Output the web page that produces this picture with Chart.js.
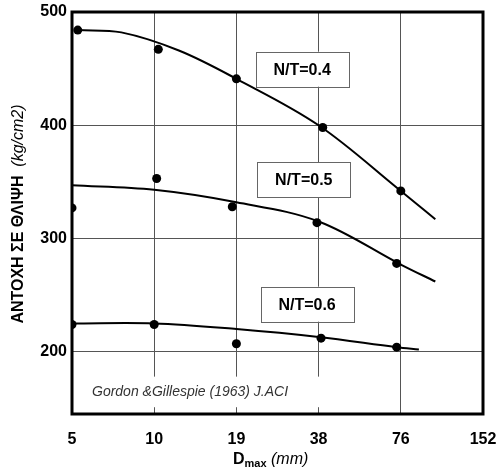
<!DOCTYPE html>
<html>
<head>
<meta charset="utf-8">
<title>Αντοχή σε θλίψη - Dmax</title>
<script src="https://cdn.jsdelivr.net/npm/chart.js@4.4.1/dist/chart.umd.min.js"></script>
<style>
  html, body { margin: 0; padding: 0; background: #fff; }
  #wrap { width: 501px; height: 470px; }
</style>
</head>
<body>
<div id="wrap"><canvas id="strengthChart" width="501" height="470"></canvas></div>
<script>
// x axis is spaced by octaves of Dmax: position i -> xTickLabels[i]
const xTickLabels = ["5", "10", "19", "38", "76", "152"];
const yTickValues = [200, 300, 400, 500];

// measured points (kg/cm2)
const nt04PointX = [0.07, 1.05, 2.0, 3.05, 4.0];
const nt04PointY = [484, 467, 441, 398, 342];
const nt05PointX = [0, 1.03, 1.95, 2.98, 3.95];
const nt05PointY = [327, 353, 328, 314, 278];
const nt06PointX = [0, 1.0, 2.0, 3.03, 3.95];
const nt06PointY = [224, 224, 207, 212, 204];

// fitted curves
const nt04CurveX = [0.07, 0.6, 1.3, 2, 3, 4, 4.42];
const nt04CurveY = [484, 482, 466, 441, 400, 342, 317];
const nt05CurveX = [0, 1, 2, 3, 4, 4.42];
const nt05CurveY = [347, 343, 332, 315, 277, 262];
const nt06CurveX = [0, 1, 2, 3, 3.95, 4.22];
const nt06CurveY = [225, 225, 220, 213, 204, 202];

const noteLabels = ["N/T=0.4", "N/T=0.5", "N/T=0.6"];
const sourceText = "Gordon &Gillespie (1963) J.ACI";

const FONT = "'Liberation Sans', Arial, sans-serif";

const toXY = (xs, ys) => xs.map((x, i) => ({ x: x, y: ys[i] }));

const curve = (xs, ys) => ({
  data: toXY(xs, ys),
  showLine: true,
  borderColor: "#000",
  borderWidth: 2,
  pointRadius: 0,
  tension: 0.35,
  fill: false,
});

const dots = (xs, ys) => ({
  data: toXY(xs, ys),
  showLine: false,
  pointRadius: 4.5,
  pointBackgroundColor: "#000",
  pointBorderWidth: 0,
});

// frame, source note, N/T boxes and axis titles
const decorations = {
  id: "decorations",
  beforeDatasetsDraw(chart) {
    const { ctx, chartArea: a, scales } = chart;
    const xs = scales.x, ys = scales.y;
    ctx.save();
    // white band behind the source note
    const bx0 = a.left + 2, bx1 = xs.getPixelForValue(3.15);
    const by0 = ys.getPixelForValue(178), by1 = ys.getPixelForValue(151);
    ctx.fillStyle = "#fff";
    ctx.fillRect(bx0, by0, bx1 - bx0, by1 - by0);
    ctx.fillStyle = "#333";
    ctx.font = "italic 14px " + FONT;
    ctx.textBaseline = "middle";
    ctx.textAlign = "left";
    ctx.fillText(sourceText, a.left + 20, (by0 + by1) / 2);
    // heavy plot frame
    ctx.strokeStyle = "#000";
    ctx.lineWidth = 3;
    ctx.strokeRect(a.left, a.top, a.right - a.left, a.bottom - a.top);
    ctx.restore();
  },
  afterDatasetsDraw(chart) {
    const { ctx, scales } = chart;
    const spots = [[2.8, 449.5], [2.82, 352], [2.86, 242]];
    ctx.save();
    ctx.font = "bold 16px " + FONT;
    ctx.textAlign = "center";
    ctx.textBaseline = "middle";
    noteLabels.forEach((t, i) => {
      const cx = scales.x.getPixelForValue(spots[i][0]);
      const cy = scales.y.getPixelForValue(spots[i][1]);
      const w = 93, h = 35;
      ctx.fillStyle = "#fff";
      ctx.fillRect(cx - w / 2, cy - h / 2, w, h);
      ctx.strokeStyle = "#666";
      ctx.lineWidth = 1;
      ctx.strokeRect(Math.round(cx - w / 2) + 0.5, Math.round(cy - h / 2) + 0.5, w, h);
      ctx.fillStyle = "#000";
      ctx.fillText(t, cx, cy + 1);
    });

    // y axis title, rotated
    const a = chart.chartArea;
    ctx.translate(19, (a.top + a.bottom) / 2 + 1);
    ctx.rotate(-Math.PI / 2);
    ctx.textAlign = "left";
    ctx.textBaseline = "middle";
    const boldPart = "ΑΝΤΟΧΗ ΣΕ ΘΛΙΨΗ";
    const italPart = "  (kg/cm2)";
    ctx.font = "bold 16px " + FONT;
    const bw = ctx.measureText(boldPart).width;
    ctx.font = "italic 16px " + FONT;
    const iw = ctx.measureText(italPart).width;
    let px = -(bw + iw) / 2;
    ctx.font = "bold 16px " + FONT;
    ctx.fillText(boldPart, px, 0);
    ctx.font = "italic 16px " + FONT;
    ctx.fillText(italPart, px + bw, 0);
    ctx.setTransform(1, 0, 0, 1, 0, 0);

    // x axis title: D with subscript max, then (mm)
    ctx.textAlign = "left";
    ctx.textBaseline = "alphabetic";
    let tx = 233;
    const base = 464;
    ctx.font = "bold 16px " + FONT;
    ctx.fillText("D", tx, base);
    tx += ctx.measureText("D").width;
    ctx.font = "bold 11px " + FONT;
    ctx.fillText("max", tx, base + 3);
    tx += ctx.measureText("max").width;
    ctx.font = "italic 16px " + FONT;
    ctx.fillText(" (mm)", tx, base);
    ctx.restore();
  },
};

document.addEventListener("DOMContentLoaded", () => {
  const canvas = document.getElementById("strengthChart");
  new Chart(canvas, {
    type: "scatter",
    data: {
      datasets: [
        curve(nt04CurveX, nt04CurveY),
        curve(nt05CurveX, nt05CurveY),
        curve(nt06CurveX, nt06CurveY),
        dots(nt04PointX, nt04PointY),
        dots(nt05PointX, nt05PointY),
        dots(nt06PointX, nt06PointY),
      ],
    },
    options: {
      responsive: false,
      animation: false,
      devicePixelRatio: 1,
      layout: { padding: { top: 12, right: 4, left: 0, bottom: 0 } },
      plugins: { legend: { display: false }, tooltip: { enabled: false } },
      scales: {
        x: {
          type: "linear",
          min: 0,
          max: 5,
          afterBuildTicks: (s) => { s.ticks = xTickLabels.map((_, i) => ({ value: i })); },
          afterFit: (s) => { s.height = 56; s.paddingLeft = 0; s.paddingRight = 18; },
          ticks: {
            callback: (v) => xTickLabels[v],
            color: "#000",
            font: { family: FONT, size: 16, weight: "bold" },
            padding: 16,
            maxRotation: 0,
          },
          grid: { color: "#555", lineWidth: 1, drawTicks: false },
          border: { display: false },
        },
        y: {
          type: "linear",
          min: 145,
          max: 500,
          afterBuildTicks: (s) => { s.ticks = yTickValues.map((v) => ({ value: v })); },
          afterFit: (s) => { s.width = 72; s.paddingTop = 0; s.paddingBottom = 0; },
          ticks: {
            color: "#000",
            font: { family: FONT, size: 16, weight: "bold" },
            padding: 5,
          },
          grid: { color: "#555", lineWidth: 1, drawTicks: false },
          border: { display: false },
        },
      },
    },
    plugins: [decorations],
  });
});
</script>
</body>
</html>
